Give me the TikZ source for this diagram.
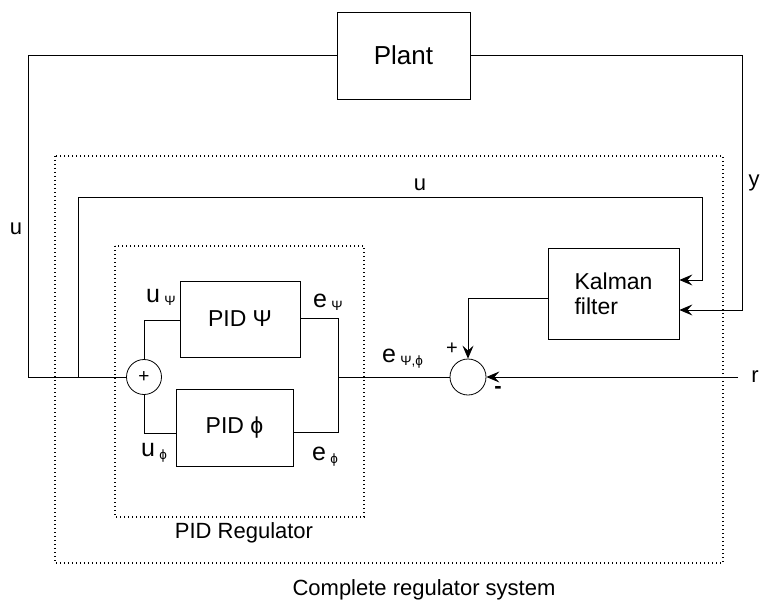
\documentclass[tikz,border=0pt]{standalone}
\usepackage{fontspec}
\setmainfont{Liberation Sans}
\usetikzlibrary{arrows.meta}
\newcommand{\sbs}[1]{\,\raisebox{-3pt}{\fontsize{13.5}{13.5}\selectfont #1}}
\begin{document}
\begin{tikzpicture}[x=1pt,y=-1pt,
  wire/.style={line width=0.8pt},
  arr/.style={wire,-{Stealth[length=13pt,width=11pt,inset=5pt]}},
  blk/.style={draw,line width=0.8pt,inner sep=0pt},
  dotbox/.style={line width=1.1pt,dash pattern=on 1.1pt off 2.9pt},
  sumc/.style={draw,circle,line width=0.8pt,inner sep=0pt},
  lbl/.style={font=\fontsize{22}{24}\selectfont,inner sep=0pt},
  slbl/.style={font=\fontsize{25}{27}\selectfont,inner sep=0pt},
  big/.style={font=\fontsize{23}{26}\selectfont}]
\useasboundingbox (0,0) rectangle (762,604);
% dotted frames
\draw[dotbox] (55,156) rectangle (723,563);
\draw[dotbox] (115,246) rectangle (364,517);
% blocks
\node[blk,minimum width=133pt,minimum height=87pt,font=\fontsize{26}{28}\selectfont] (plant) at (403.5,55.5) {Plant};
\node[blk,minimum width=120pt,minimum height=76pt,big] (pidpsi) at (240,319) {PID Ψ};
\node[blk,minimum width=117pt,minimum height=77pt,big] (pidphi) at (234.5,427.5) {PID ϕ};
\node[blk,minimum width=131pt,minimum height=91pt,big,align=left,font=\fontsize{23}{25}\selectfont] (kal) at (613.5,293.5) {Kalman\\filter};
\node[sumc,minimum size=35pt] (sa) at (144,377) {};
\node[font=\fontsize{19}{19}\selectfont] at (sa) {+};
\node[sumc,minimum size=36pt] (sb) at (468,377) {};
% coordinates
\coordinate (j1) at (78,377);
\coordinate (j2) at (338,377);
\coordinate (rin) at (738,377);
% connectors
\draw[wire] (plant.west) -- (28,55.5) -- (28,377) -- (sa.west);
\draw[arr] (plant.east) -- (742,55.5) -- (742,310) -- (kal.east |- 0,310);
\draw[arr] (j1) -- (78,197) -- (702,197) -- (702,280) -- (kal.east |- 0,280);
\draw[wire] (sa.north) -- (144,320) -- (pidpsi.west |- 0,320);
\draw[wire] (sa.south) -- (144,433) -- (pidphi.west |- 0,433);
\draw[wire] (pidpsi.east |- 0,318) -- (338,318) -- (338,432) -- (pidphi.east |- 0,432);
\draw[wire] (j2) -- (sb.west);
\draw[arr] (kal.west |- 0,298) -- (468,298) -- (sb.north);
\draw[arr] (rin) -- (sb.east);
% labels
\node[lbl] at (16,229) {u};
\node[lbl] at (420,185) {u};
\node[lbl] at (754,183) {y};
\node[lbl] at (755,377) {r};
\node[slbl,anchor=base west] at (146,302) {u\sbs{Ψ}};
\node[slbl,anchor=base west] at (141,456) {u\sbs{ϕ}};
\node[slbl,anchor=base west] at (313,307) {e\sbs{Ψ}};
\node[slbl,anchor=base west] at (312,460) {e\sbs{ϕ}};
\node[slbl,anchor=base west] at (382,362) {e\sbs{Ψ,ϕ}};
\node[font=\fontsize{20}{20}\selectfont] at (452,349) {+};
\node[font=\fontsize{22}{22}\selectfont\bfseries] at (498,390) {-};
\node[lbl] at (244,533) {PID Regulator};
\node[lbl] at (424,590) {Complete regulator system};
\end{tikzpicture}
\end{document}
